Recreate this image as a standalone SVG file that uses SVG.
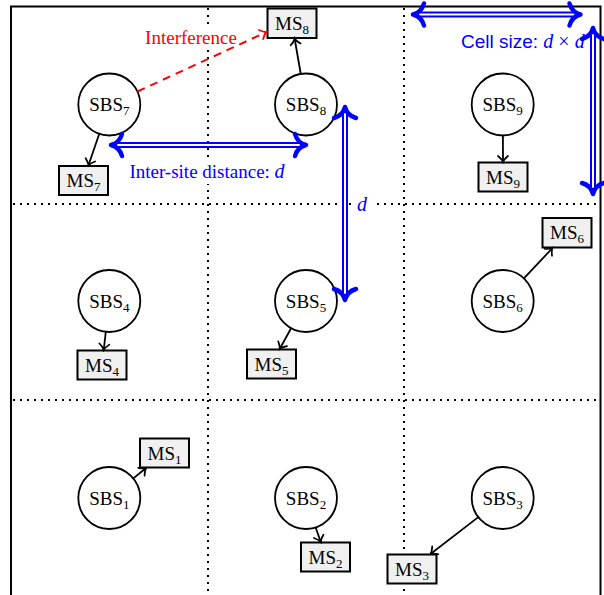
<svg xmlns="http://www.w3.org/2000/svg" xmlns:xlink="http://www.w3.org/1999/xlink" width="604" height="595" viewBox="0 0 604 595">
<style>
.sbs{fill:#fff;stroke:#000;stroke-width:1.8}
.ms{fill:#f0f0f0;stroke:#000;stroke-width:2}
.t{font-family:"Liberation Serif","Times New Roman",serif;font-size:19px;fill:#000}
.sub{font-size:13px}
.dot{stroke:#000;stroke-width:2;stroke-dasharray:2 5;fill:none}
.conn{stroke:#000;stroke-width:1.8;fill:none;marker-end:url(#ah)}
.intf{stroke:#ff0000;stroke-width:2;stroke-dasharray:8 6;fill:none;marker-end:url(#ahr)}
.dbl{stroke:#0000ff;stroke-width:6;fill:none}
.dbi{stroke:#fff;stroke-width:2;fill:none}
.hd{stroke:#0000ff;stroke-width:4.5;fill:none;stroke-linecap:round;stroke-linejoin:round}
.bl{font-family:"Liberation Serif","Times New Roman",serif;font-size:19px;fill:#0000ff}
.mi{font-style:italic}
</style>
<defs>
<marker id="ah" markerUnits="userSpaceOnUse" viewBox="-8 -7 10 14" markerWidth="10" markerHeight="14" refX="0" refY="0" orient="auto">
<path d="M-6,-5 C-3.5,-2 -1.5,-0.5 0,0 C-1.5,0.5 -3.5,2 -6,5" fill="none" stroke="#000" stroke-width="1.7" stroke-linecap="round"/>
</marker>
<marker id="ahr" markerUnits="userSpaceOnUse" viewBox="-8 -7 10 14" markerWidth="10" markerHeight="14" refX="0" refY="0" orient="auto">
<path d="M-6,-5 C-3.5,-2 -1.5,-0.5 0,0 C-1.5,0.5 -3.5,2 -6,5" fill="none" stroke="#ff0000" stroke-width="1.8" stroke-linecap="round"/>
</marker>
<path id="hd" class="hd" d="M-11,-11 C-9,-4 -4,-1 0,0 C-4,1 -9,4 -11,11"/>
</defs>
<rect width="604" height="595" fill="#fff"/>
<g id="frame">
<rect x="11" y="6.5" width="589.5" height="600" fill="none" stroke="#000" stroke-width="2"/>
<line class="dot" x1="208" y1="8" x2="208" y2="595"/>
<line class="dot" x1="404" y1="8" x2="404" y2="595"/>
<line class="dot" x1="13" y1="204" x2="599" y2="204"/>
<line class="dot" x1="13" y1="400" x2="599" y2="400"/>
</g>
<g id="labels">
<rect x="141" y="26" width="100" height="24" fill="#fff"/>
<text class="t" x="191" y="43.5" text-anchor="middle" style="fill:#ff0000">Interference</text>
<rect x="122" y="158" width="172" height="26" fill="#fff"/>
<text class="bl" x="207" y="178" text-anchor="middle">Inter-site distance: <tspan class="mi" style="font-size:20px">d</tspan></text>
<rect x="352" y="193" width="21" height="24" fill="#fff"/>
<text class="bl mi" x="362" y="211" text-anchor="middle" style="font-size:20px">d</text>
<rect x="456" y="28" width="140" height="26" fill="#fff"/>
<text class="bl" x="461" y="48" style="font-size:20px"><tspan style="font-family:'Liberation Sans',Arial,sans-serif;font-size:19px">Cell size: </tspan><tspan class="mi">d</tspan> × <tspan class="mi">d</tspan></text>
</g>
<g id="nodes">
<g id="SBS7"><circle class="sbs" cx="109.3" cy="104.5" r="31"/><text class="t" x="109.3" y="111" text-anchor="middle">SBS<tspan class="sub" dy="4">7</tspan></text></g>
<g id="SBS8"><circle class="sbs" cx="306" cy="104.5" r="31"/><text class="t" x="306" y="111" text-anchor="middle">SBS<tspan class="sub" dy="4">8</tspan></text></g>
<g id="SBS9"><circle class="sbs" cx="502.7" cy="104.5" r="31"/><text class="t" x="502.7" y="111" text-anchor="middle">SBS<tspan class="sub" dy="4">9</tspan></text></g>
<g id="SBS4"><circle class="sbs" cx="109.3" cy="301" r="31"/><text class="t" x="109.3" y="307.5" text-anchor="middle">SBS<tspan class="sub" dy="4">4</tspan></text></g>
<g id="SBS5"><circle class="sbs" cx="306" cy="301" r="31"/><text class="t" x="306" y="307.5" text-anchor="middle">SBS<tspan class="sub" dy="4">5</tspan></text></g>
<g id="SBS6"><circle class="sbs" cx="502.7" cy="301" r="31"/><text class="t" x="502.7" y="307.5" text-anchor="middle">SBS<tspan class="sub" dy="4">6</tspan></text></g>
<g id="SBS1"><circle class="sbs" cx="109.3" cy="498" r="31"/><text class="t" x="109.3" y="504.5" text-anchor="middle">SBS<tspan class="sub" dy="4">1</tspan></text></g>
<g id="SBS2"><circle class="sbs" cx="306" cy="498" r="31"/><text class="t" x="306" y="504.5" text-anchor="middle">SBS<tspan class="sub" dy="4">2</tspan></text></g>
<g id="SBS3"><circle class="sbs" cx="502.7" cy="498" r="31"/><text class="t" x="502.7" y="504.5" text-anchor="middle">SBS<tspan class="sub" dy="4">3</tspan></text></g>
<g id="MS7"><rect class="ms" x="59" y="166" width="49" height="29"/><text class="t" x="83.5" y="187" text-anchor="middle">MS<tspan class="sub" dy="4">7</tspan></text></g>
<g id="MS8"><rect class="ms" x="267.5" y="8.5" width="49" height="29.5"/><text class="t" x="292" y="29.5" text-anchor="middle">MS<tspan class="sub" dy="4">8</tspan></text></g>
<g id="MS9"><rect class="ms" x="478.5" y="162.5" width="49" height="29"/><text class="t" x="503" y="183.5" text-anchor="middle">MS<tspan class="sub" dy="4">9</tspan></text></g>
<g id="MS4"><rect class="ms" x="77.5" y="350.5" width="49" height="29"/><text class="t" x="102" y="371.5" text-anchor="middle">MS<tspan class="sub" dy="4">4</tspan></text></g>
<g id="MS5"><rect class="ms" x="247" y="349.5" width="49" height="29"/><text class="t" x="271.5" y="370.5" text-anchor="middle">MS<tspan class="sub" dy="4">5</tspan></text></g>
<g id="MS6"><rect class="ms" x="542.5" y="218" width="49" height="29.5"/><text class="t" x="567" y="239" text-anchor="middle">MS<tspan class="sub" dy="4">6</tspan></text></g>
<g id="MS1"><rect class="ms" x="140" y="438.5" width="49" height="29"/><text class="t" x="164.5" y="459.5" text-anchor="middle">MS<tspan class="sub" dy="4">1</tspan></text></g>
<g id="MS2"><rect class="ms" x="301" y="542.5" width="49" height="29"/><text class="t" x="325.5" y="563.5" text-anchor="middle">MS<tspan class="sub" dy="4">2</tspan></text></g>
<g id="MS3"><rect class="ms" x="387.5" y="554.5" width="49" height="29"/><text class="t" x="412" y="575.5" text-anchor="middle">MS<tspan class="sub" dy="4">3</tspan></text></g>
</g>
<g id="connectors">
<line class="conn" x1="99.3" y1="133.8" x2="88.4" y2="165.5"/>
<line class="conn" x1="300.8" y1="74" x2="294.6" y2="38.5"/>
<line class="conn" x1="502.9" y1="135.5" x2="503" y2="162"/>
<line class="conn" x1="105.8" y1="331.8" x2="103.7" y2="350"/>
<line class="conn" x1="291.1" y1="328.2" x2="279.7" y2="349"/>
<line class="conn" x1="523.9" y1="278.4" x2="552.5" y2="248"/>
<line class="conn" x1="133.3" y1="478.4" x2="146.1" y2="468"/>
<line class="conn" x1="315.7" y1="527.5" x2="320.7" y2="542"/>
<line class="conn" x1="478.3" y1="517.1" x2="430.5" y2="554"/>
<line class="intf" x1="137.5" y1="91.5" x2="266.5" y2="32"/>
</g>
<g id="dimensions">
<line class="dbl" x1="113" y1="145" x2="304" y2="145"/>
<line class="dbi" x1="117" y1="145" x2="300" y2="145"/>
<use xlink:href="#hd" href="#hd" transform="translate(111,145) rotate(180)"/>
<use xlink:href="#hd" href="#hd" transform="translate(306,145)"/>
<line class="dbl" x1="345" y1="109" x2="345" y2="298"/>
<line class="dbi" x1="345" y1="113" x2="345" y2="294"/>
<use xlink:href="#hd" href="#hd" transform="translate(345,107) rotate(-90)"/>
<use xlink:href="#hd" href="#hd" transform="translate(345,300) rotate(90)"/>
<line class="dbl" x1="415" y1="14.5" x2="578.5" y2="14.5"/>
<line class="dbi" x1="419" y1="14.5" x2="574.5" y2="14.5"/>
<use xlink:href="#hd" href="#hd" transform="translate(413,14.5) rotate(180)"/>
<use xlink:href="#hd" href="#hd" transform="translate(580.5,14.5)"/>
<line class="dbl" x1="593" y1="30" x2="593" y2="192"/>
<line class="dbi" x1="593" y1="34" x2="593" y2="188"/>
<use xlink:href="#hd" href="#hd" transform="translate(593,28) rotate(-90)"/>
<use xlink:href="#hd" href="#hd" transform="translate(593,194) rotate(90)"/>
</g>
</svg>
